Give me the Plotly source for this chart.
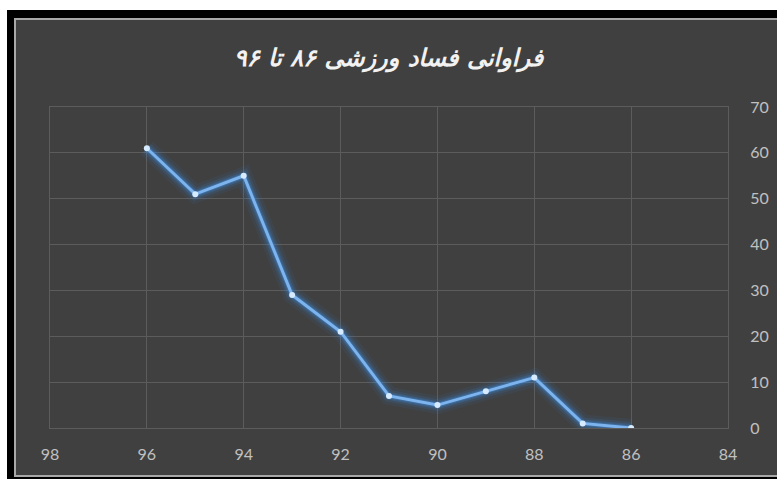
import plotly.graph_objects as go

years = [96, 95, 94, 93, 92, 91, 90, 89, 88, 87, 86]
counts = [61, 51, 55, 29, 21, 7, 5, 8, 11, 1, 0]
x_ticks = [98, 96, 94, 92, 90, 88, 86, 84]
y_ticks = [0, 10, 20, 30, 40, 50, 60, 70]
title_text = "فراوانی فساد ورزشی ۸۶ تا ۹۶"

W, H = 777, 481
L, R, T, B = 50, 49, 107, 53
pw, ph = W - L - R, H - T - B

def px(xp):
    return (xp - L) / pw

def py(yp):
    return (H - B - yp) / ph

fig = go.Figure()

# glow layers
for w, op in [(18, 0.07), (12, 0.12), (8, 0.2), (5, 0.32)]:
    fig.add_trace(go.Scatter(x=years, y=counts, mode="lines",
                             line=dict(color="#3d8fe8", width=w),
                             opacity=op, hoverinfo="skip", showlegend=False))
fig.add_trace(go.Scatter(x=years, y=counts, mode="lines+markers",
                         line=dict(color="#7db4ee", width=3),
                         marker=dict(color="#d6ebff", size=6),
                         showlegend=False))

shapes = [
    dict(type="rect", xref="paper", yref="paper", layer="below",
         x0=px(7), x1=px(W + 5), y0=py(10), y1=py(479),
         fillcolor="#000000", line=dict(width=0)),
    dict(type="rect", xref="paper", yref="paper", layer="below",
         x0=px(15), x1=px(W + 5), y0=py(19), y1=py(476),
         fillcolor="#404040", line=dict(color="#a8a8a8", width=2)),
]

axis_common = dict(showgrid=True, gridcolor="#5c5c5c", gridwidth=1, zeroline=False,
                   showline=True, mirror=True, linecolor="#5c5c5c", linewidth=1, ticks="")

fig.update_layout(
    width=W, height=H,
    paper_bgcolor="#ffffff", plot_bgcolor="rgba(0,0,0,0)",
    margin=dict(l=L, r=R, t=T, b=B, autoexpand=False),
    shapes=shapes,
    title=dict(text=title_text, x=0.5, xanchor="center", y=1 - 58 / H, yanchor="middle",
               font=dict(family="DejaVu Sans", size=24, color="#f2f2f2", weight="bold", style="italic")),
    xaxis=dict(range=[98, 84], tickvals=x_ticks, ticklabelstandoff=12,
               tickfont=dict(family="Lato", size=16, color="#c0c0c0"), **axis_common),
    yaxis=dict(range=[0, 70], tickvals=y_ticks, side="right", ticklabelstandoff=18,
               tickfont=dict(family="Lato", size=16, color="#c0c0c0"), **axis_common),
)

fig.write_html("out.html", post_script="document.body.style.margin='0px';",
               config={"displayModeBar": False})
